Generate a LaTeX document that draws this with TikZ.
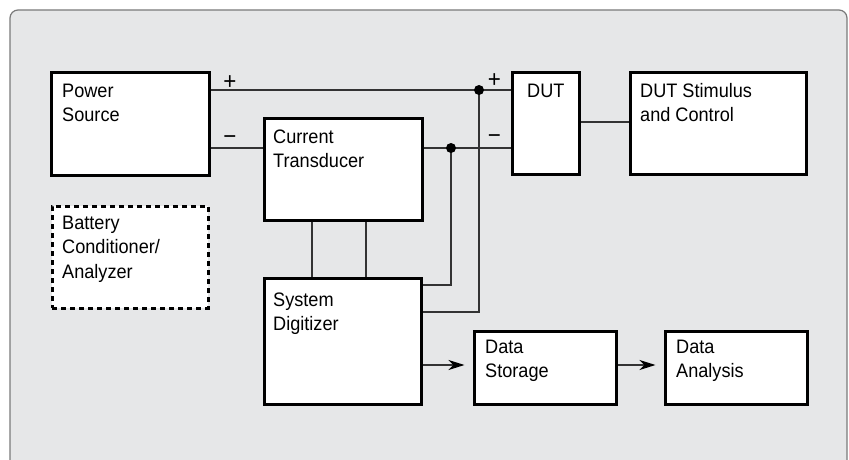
\documentclass[tikz,border=0pt]{standalone}
\usepackage{fontspec}
\setmainfont{Liberation Sans}[FakeStretch=0.93]
\usetikzlibrary{arrows.meta}
\definecolor{panel}{HTML}{E6E7E8}
\definecolor{panelline}{HTML}{7A7A7A}
\definecolor{wire}{HTML}{333333}
\newcommand{\boxtxt}[1]{\begin{tabular}[t]{@{}l@{}}#1\end{tabular}}
\tikzset{
  blk/.style={draw=black, line width=3pt, fill=white, rectangle, inner sep=0pt, anchor=north west},
  dblk/.style={blk, dash pattern=on 5pt off 4pt},
  txt/.style={anchor=base west, inner sep=0pt, font=\fontsize{19.5}{24.5}\selectfont},
  sign/.style={anchor=base, inner sep=0pt, font=\fontsize{24}{24}\selectfont},
  wire/.style={draw=wire, line width=1.3pt},
  arr/.style={wire, -{Stealth[length=16pt,width=10pt,inset=5pt,black]}, shorten >=8pt},
  dot/.style={circle, fill=black, inner sep=0pt, minimum size=10pt}
}
\begin{document}
\begin{tikzpicture}[x=1pt,y=-1pt]
\useasboundingbox (0,0) rectangle (849,460);
% panel
\fill[panel, draw=panelline, line width=1.2pt, rounded corners=8pt]
  (10,480) -- (10,10) -- (847,10) -- (847,480);
% blocks
\node[blk, minimum width=158pt, minimum height=102pt] (PS) at (49.5,71.5) {};
\node[blk, minimum width=158pt, minimum height=102pt] (CT) at (262.5,116.5) {};
\node[dblk, minimum width=156pt, minimum height=102pt] (BA) at (50.5,204.5) {};
\node[blk, minimum width=157pt, minimum height=126pt] (SD) at (262.5,276.5) {};
\node[blk, minimum width=67pt, minimum height=101pt] (DUT) at (510.5,71.5) {};
\node[blk, minimum width=176pt, minimum height=101pt] (ST) at (628.5,71.5) {};
\node[blk, minimum width=142pt, minimum height=73pt] (DS) at (472.5,329.5) {};
\node[blk, minimum width=142pt, minimum height=73pt] (DA) at (663.5,329.5) {};
% texts
\node[txt] (tPS) at (62,97) {\boxtxt{Power\\Source}};
\node[txt] (tCT) at (273,143) {\boxtxt{Current\\Transducer}};
\node[txt] (tBA) at (62,229) {\boxtxt{Battery\\Conditioner/\\Analyzer}};
\node[txt] (tSD) at (273,306) {\boxtxt{System\\Digitizer}};
\node[txt] (tDUT) at (527,97) {\boxtxt{DUT}};
\node[txt] (tST) at (640,97) {\boxtxt{DUT Stimulus\\and Control}};
\node[txt] (tDS) at (485,353) {\boxtxt{Data\\Storage}};
\node[txt] (tDA) at (676,353) {\boxtxt{Data\\Analysis}};
% coordinates
\coordinate (dp) at (479,90);
\coordinate (dm) at (451,148);
\coordinate (kp) at (479,312);
\coordinate (km) at (451,285);
\coordinate (ms) at (600,122);
\coordinate (ar) at (440,365);
\coordinate (c1) at (312,240);
\coordinate (c2) at (366,240);
% wires
\draw[wire] (PS.east |- dp) -- (DUT.west |- dp);
\draw[wire] (PS.east |- dm) -- (CT.west |- dm);
\draw[wire] (CT.east |- dm) -- (DUT.west |- dm);
\draw[wire] (dp) -- (kp) -- (SD.east |- kp);
\draw[wire] (dm) -- (km) -- (SD.east |- km);
\draw[wire] (c1 |- CT.south) -- (c1 |- SD.north);
\draw[wire] (c2 |- CT.south) -- (c2 |- SD.north);
\draw[wire] (DUT.east |- ms) -- (ST.west |- ms);
\draw[arr] (SD.east |- ar) -- (DS.west |- ar);
\draw[arr] (DS.east |- ar) -- (DA.west |- ar);
% junction dots
\node[dot] (jp) at (dp) {};
\node[dot] (jm) at (dm) {};
% polarity signs
\node[sign] (s1) at (230,89) {+};
\node[sign] (s2) at (230,144) {−};
\node[sign] (s3) at (494.5,88) {+};
\node[sign] (s4) at (494.5,143) {−};
\end{tikzpicture}
\end{document}
